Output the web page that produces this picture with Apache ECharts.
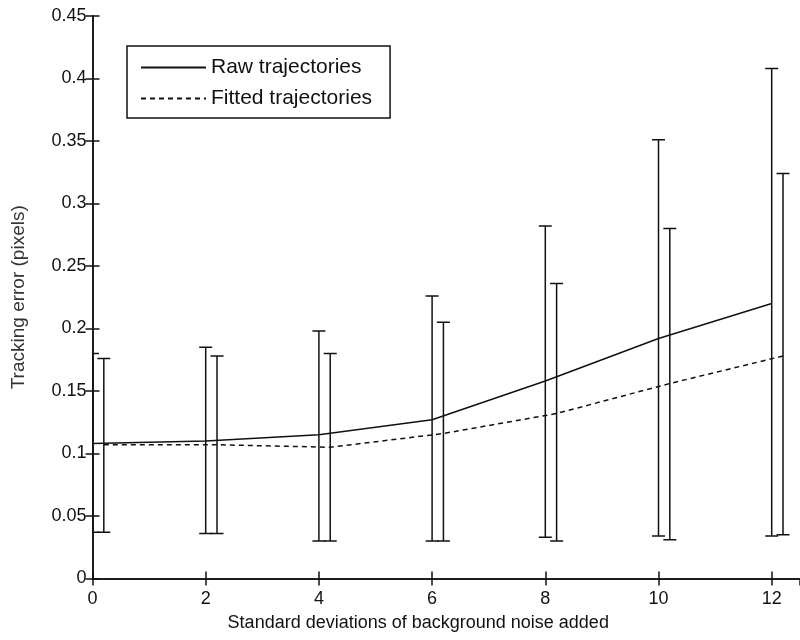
<!DOCTYPE html>
<html>
<head>
<meta charset="utf-8">
<script src="https://cdn.jsdelivr.net/npm/echarts@6/dist/echarts.min.js"></script>
<style>
  html, body { margin: 0; padding: 0; background: #fff; }
  #main { width: 800px; height: 640px; }
</style>
</head>
<body>
<div id="main"></div>
<script>
// noise levels (std devs of background noise added)
const noise = [0, 2, 4, 6, 8, 10, 12]
const fitShift = 0.2 // fitted bars are drawn slightly to the right

// mean tracking error
const rawMean = [0.108, 0.110, 0.115, 0.127, 0.158, 0.192, 0.220]
const fitMean = [0.107, 0.107, 0.105, 0.116, 0.132, 0.156, 0.178]

// error bar limits
const rawLow = [0.037, 0.036, 0.030, 0.030, 0.033, 0.034, 0.034]
const rawHigh = [0.180, 0.185, 0.198, 0.226, 0.282, 0.351, 0.408]
const fitLow = [0.037, 0.036, 0.030, 0.030, 0.030, 0.031, 0.035]
const fitHigh = [0.176, 0.178, 0.180, 0.205, 0.236, 0.280, 0.324]

const ink = '#111'
const font = 'Liberation Sans, Arial, sans-serif'

const chart = echarts.init(document.getElementById('main'))

// vertical bar with caps at both ends
const errorBar = (params, api) => {
  const x = api.value(0)
  const top = api.coord([x, api.value(2)])
  const bot = api.coord([x, api.value(1)])
  const hw = 6.5
  const st = { stroke: ink, lineWidth: 1.5 }
  return {
    type: 'group',
    children: [
      { type: 'line', shape: { x1: top[0], y1: top[1], x2: bot[0], y2: bot[1] }, style: st },
      { type: 'line', shape: { x1: top[0] - hw, y1: top[1], x2: top[0] + hw, y2: top[1] }, style: st },
      { type: 'line', shape: { x1: bot[0] - hw, y1: bot[1], x2: bot[0] + hw, y2: bot[1] }, style: st }
    ]
  }
}

const tick = { show: true, inside: true, length: 7, lineStyle: { color: ink, width: 1.5 } }
const axLine = { show: true, lineStyle: { color: ink, width: 1.5 } }

chart.setOption({
  animation: false,
  backgroundColor: '#fff',
  grid: { left: 92.5, top: 16, right: -3, bottom: 61.5 },
  legend: {
    data: ['Raw trajectories', 'Fitted trajectories'],
    orient: 'vertical',
    left: 127,
    top: 46,
    padding: [11, 18, 9, 13],
    itemGap: 10,
    itemWidth: 65,
    itemHeight: 14,
    itemStyle: { opacity: 0 },
    borderColor: ink,
    borderWidth: 1.5,
    backgroundColor: '#fff',
    textStyle: { fontFamily: font, fontSize: 21, color: ink }
  },
  xAxis: [
    {
      type: 'value',
      min: 0,
      max: 12.5,
      interval: 2,
      name: 'Standard deviations of background noise added',
      nameLocation: 'middle',
      nameGap: 36,
      // title sits a bit left of the plot centre in the original
      nameTextStyle: { fontFamily: font, fontSize: 18, color: ink, padding: [0, 56, 0, 0] },
      axisLine: axLine,
      axisTick: tick,
      axisLabel: { fontFamily: font, fontSize: 18, color: ink, margin: 12, showMaxLabel: false },
      splitLine: { show: false }
    },
    {
      type: 'value',
      position: 'top',
      min: 0,
      max: 12.5,
      interval: 2,
      axisLine: axLine,
      axisTick: tick,
      axisLabel: { show: false },
      splitLine: { show: false }
    }
  ],
  yAxis: [
    {
      type: 'value',
      min: 0,
      max: 0.45,
      interval: 0.05,
      name: 'Tracking error (pixels)',
      nameLocation: 'middle',
      nameGap: 64,
      nameTextStyle: { fontFamily: font, fontSize: 19, color: '#333' },
      axisLine: axLine,
      axisTick: tick,
      axisLabel: { fontFamily: font, fontSize: 18, color: ink, margin: 6 },
      splitLine: { show: false }
    },
    {
      type: 'value',
      position: 'right',
      min: 0,
      max: 0.45,
      interval: 0.05,
      axisLine: axLine,
      axisTick: tick,
      axisLabel: { show: false },
      splitLine: { show: false }
    }
  ],
  series: [
    {
      name: 'Raw trajectories',
      type: 'line',
      symbol: 'none',
      data: noise.map((x, i) => [x, rawMean[i]]),
      lineStyle: { color: ink, width: 1.5 },
      itemStyle: { color: ink }
    },
    {
      name: 'Fitted trajectories',
      type: 'line',
      symbol: 'none',
      data: noise.map((x, i) => [x + fitShift, fitMean[i]]),
      lineStyle: { color: ink, width: 1.5, type: [5, 4] },
      itemStyle: { color: ink }
    },
    {
      name: 'raw bars',
      type: 'custom',
      clip: true,
      renderItem: errorBar,
      data: noise.map((x, i) => [x, rawLow[i], rawHigh[i]])
    },
    {
      name: 'fitted bars',
      type: 'custom',
      clip: true,
      renderItem: errorBar,
      data: noise.map((x, i) => [x + fitShift, fitLow[i], fitHigh[i]])
    }
  ]
})
</script>
</body>
</html>
